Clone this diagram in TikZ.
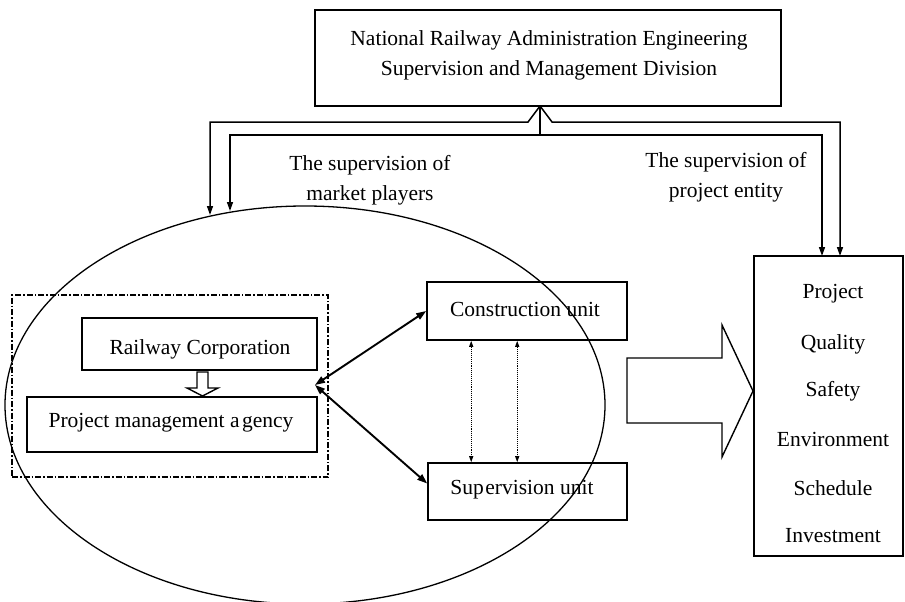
\documentclass[tikz,border=0pt]{standalone}
\usepackage{fontspec}
\setmainfont{Liberation Serif}
\usetikzlibrary{arrows.meta,calc,shapes.geometric}
\begin{document}
\begin{tikzpicture}[x=1pt,y=-1pt,
  txt/.style={font=\fontsize{21.5}{30}\selectfont, align=center, inner sep=0pt},
  box/.style={draw, line width=1.6pt, rectangle, inner sep=0pt},
  sup/.style={line width=1.5pt, -{Triangle[length=9pt,width=6pt]}},
  dbl/.style={line width=1.9pt, {Triangle[length=10pt,width=7pt]}-{Triangle[length=10pt,width=7pt]}},
  dotarr/.style={line width=1.1pt, densely dotted, {Triangle[length=6pt,width=4pt]}-{Triangle[length=6pt,width=4pt]}},
  hollow/.style={draw, line width=1.4pt, fill=white, line join=miter}]
\useasboundingbox (0,0) rectangle (905,602);

% top box
\node[box, minimum width=466pt, minimum height=96pt] (top) at (548,58) {};
\node[txt] (toptext) at (549,55) {National Railway Administration Engineering\\Supervision and Management Division};

% ellipse of market players
\node[draw, ellipse, line width=1.3pt, minimum width=600pt, minimum height=398pt, inner sep=0pt, outer sep=0pt] (ell) at (305,405) {};

% dash-dot group
\node[draw, line width=1.4pt, dash pattern=on 6pt off 2pt on 1.5pt off 2pt, minimum width=316pt, minimum height=182pt, inner sep=0pt] (grp) at (170,386) {};
\node[box, minimum width=235pt, minimum height=52pt] (rc) at (199.5,344) {};
\node[txt] (rct) at (200,349) {Railway Corporation};
\node[box, minimum width=290pt, minimum height=55pt] (pma) at (172,424.5) {};
\node[txt] (pmat) at (171,423) {Project management a\kern2.5pt gency};
\path[hollow] (197,372) -- (208,372) -- (208,388) -- (218,388) -- (202.5,396) -- (187,388) -- (197,388) -- cycle;

% units
\node[box, minimum width=200pt, minimum height=58pt] (cu) at (527,311) {};
\node[txt] (cut) at (525,309) {Construction unit};
\node[box, minimum width=199pt, minimum height=57pt] (su) at (527.5,491.5) {};
\node[txt] (sut) at (522,490) {Sup\kern1.5pt ervision unit};

% right box
\node[box, minimum width=149pt, minimum height=300pt] (res) at (828.5,406) {};
\foreach \t/\y [count=\i] in {Project/294,Quality/344,Safety/391,Environment/439,Schedule/488,Investment/536}
  \node[txt] (r\i) at (833,\y) {\t};

% big hollow arrow
\path[hollow] (627,358) -- (722,358) -- (722,325) -- (753,391) -- (722,457) -- (722,423) -- (627,423) -- cycle;

% supervision connectors
\coordinate (apex) at (540,106);
\coordinate (jn) at (540,135);
\coordinate (hitA) at (210,215);
\coordinate (hitB) at (230,211);
\draw[sup] (apex) -- (528,122) -- (210,122) -- (hitA);
\draw[sup] (apex) -- (552,122) -- (840,122) -- (840,256);
\draw[line width=1.5pt] (apex) -- (jn);
\draw[sup] (jn) -- (230,135) -- (hitB);
\draw[sup] (jn) -- (822,135) -- (822,256);

\node[txt] (lab1) at (370,180) {The supervision of\\market players};
\node[txt] (lab2) at (726,177) {The supervision of\\project entity};

% relations
\coordinate (conv) at (315,385);
\draw[dbl] (conv) -- (cu.west);
\draw[dbl] (conv) -- ($(su.west)+(0,-8)$);
\draw[dotarr] ($(cu.south west)+(45,0)$) -- ($(su.north west)+(44,0)$);
\draw[dotarr] ($(cu.south west)+(91,0)$) -- ($(su.north west)+(90,0)$);
\end{tikzpicture}
\end{document}
